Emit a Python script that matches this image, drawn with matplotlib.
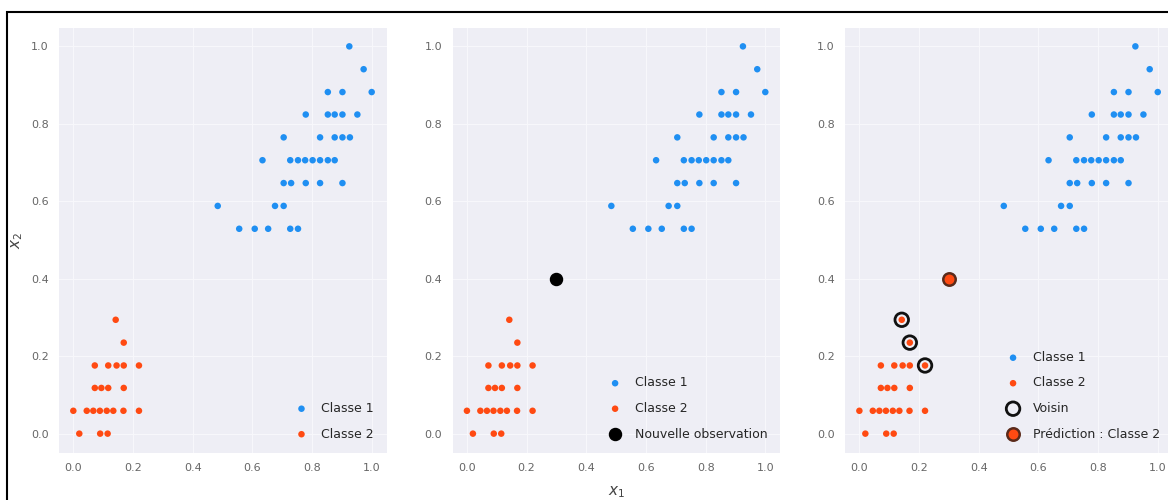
import matplotlib
matplotlib.use("Agg")
import matplotlib.pyplot as plt
import matplotlib.patches as mpatches
import numpy as np
import seaborn as sns

sns.set_style("darkgrid", {"axes.facecolor": "#eeeef5", "grid.color": "#f7f7fb"})
plt.rcParams['font.family'] = ['DejaVu Sans']

# Classe 1 (bleu)
c1_x = [0.925,
        0.973,
        0.853, 0.902, 1.0,
        0.779, 0.853, 0.876, 0.902, 0.952,
        0.705, 0.827, 0.876, 0.902, 0.927,
        0.634, 0.727, 0.753, 0.777, 0.802, 0.827, 0.853, 0.876,
        0.705, 0.730, 0.779, 0.827, 0.902,
        0.484, 0.676, 0.705,
        0.556, 0.608, 0.653, 0.727, 0.753]
c1_y = [1.0,
        0.941,
        0.882, 0.882, 0.882,
        0.824, 0.824, 0.824, 0.824, 0.824,
        0.765, 0.765, 0.765, 0.765, 0.765,
        0.706, 0.706, 0.706, 0.706, 0.706, 0.706, 0.706, 0.706,
        0.647, 0.647, 0.647, 0.647, 0.647,
        0.588, 0.588, 0.588,
        0.529, 0.529, 0.529, 0.529, 0.529]

# Classe 2 (orange)
c2_x = [0.020, 0.090, 0.115,
        0.0, 0.045, 0.067, 0.089, 0.112, 0.134, 0.168, 0.220,
        0.072, 0.094, 0.117, 0.169,
        0.072, 0.117, 0.145, 0.169, 0.220,
        0.169,
        0.142]
c2_y = [0.0, 0.0, 0.0,
        0.059, 0.059, 0.059, 0.059, 0.059, 0.059, 0.059, 0.059,
        0.118, 0.118, 0.118, 0.118,
        0.176, 0.176, 0.176, 0.176, 0.176,
        0.235,
        0.294]

new_obs = (0.30, 0.40)
# les 3 plus proches voisins
voisins_x = [0.142, 0.169, 0.220]
voisins_y = [0.294, 0.235, 0.176]

BLUE = '#1f8ff2'
ORANGE = '#ff4a12'

fig = plt.figure(figsize=(11.68, 5.0), dpi=100)
lefts = [0.050, 0.387, 0.723]
width = 0.281
axes = [fig.add_axes([l, 0.094, width, 0.852]) for l in lefts]

for ax in axes:
    ax.scatter(c1_x, c1_y, s=22, color=BLUE, edgecolors='none', label='Classe 1', zorder=3)
    ax.scatter(c2_x, c2_y, s=22, color=ORANGE, edgecolors='none', label='Classe 2', zorder=3)
    ax.set_xticks(np.arange(0, 1.01, 0.2))
    ax.set_yticks(np.arange(0, 1.01, 0.2))
    ax.tick_params(labelsize=8, colors='#666666')

# panneau 2 : nouvelle observation
axes[1].scatter(*new_obs, s=75, color='black', label='Nouvelle observation', zorder=4)

# panneau 3 : voisins et prediction
axes[2].scatter(voisins_x, voisins_y, s=95, facecolors='none', edgecolors='#111111',
                linewidths=2.0, label='Voisin', zorder=4)
axes[2].scatter(*new_obs, s=80, color=ORANGE, edgecolors='#5a2a1a', linewidths=1.8,
                label='Prédiction : Classe 2', zorder=4)

for ax in axes:
    ax.legend(loc='lower right', fontsize=9, frameon=False, handletextpad=0.6,
              labelspacing=1.0, borderaxespad=0.6)

axes[0].set_ylabel(r'$x_2$', fontsize=11, color='#444444')
axes[1].set_xlabel(r'$x_1$', fontsize=11, color='#444444', labelpad=8)

# cadre autour de la figure
fig.patches.append(mpatches.Rectangle((0.006, -0.05), 1.1, 1.026,
                                      transform=fig.transFigure, fill=False,
                                      edgecolor='black', linewidth=1.5))

fig.savefig('out.png', dpi=100)
